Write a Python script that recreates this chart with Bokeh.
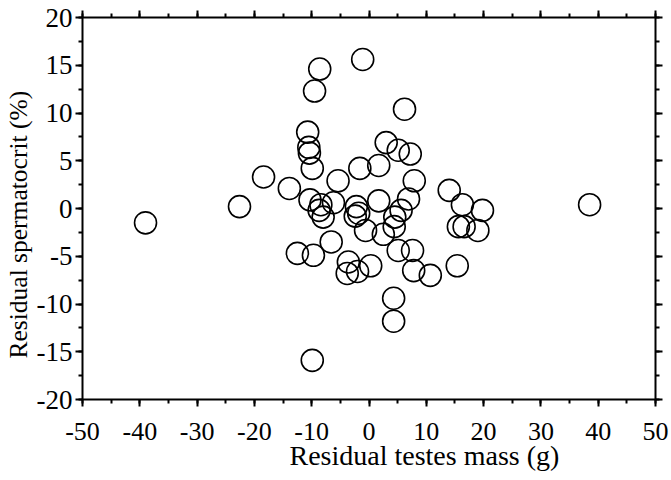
from bokeh.plotting import figure
from bokeh.models import (Range1d, LinearAxis, SingleIntervalTicker,
                          PrintfTickFormatter, CustomLabelingPolicy, Title,
                          CustomJSTickFormatter)
from bokeh.embed import file_html
from bokeh.resources import INLINE

# Residual testes mass (g)
x_vals = [-39.0, -22.6, -18.4, -13.9, -8.6, -9.5, -10.7, -10.5, -10.4, -9.9,
          -5.4, -10.3, -8.4, -6.2, -8.7, -8.0, -2.2, -1.8, -2.4, -1.6,
          -1.1, 1.7, 3.0, 5.1, 7.2, 6.2, 7.9, 1.7, 6.9, 5.6,
          4.5, 4.4, -0.6, 2.5, 14.0, 16.3, 19.8, 15.6, 16.6, 19.0,
          38.5, -6.6, -12.5, -9.7, -3.6, -3.8, -2.0, 0.3, 5.1, 7.6,
          7.8, 10.7, 15.4, 4.3, 4.3, -9.9]
# Residual spermatocrit (%)
y_vals = [-1.5, 0.2, 3.3, 2.1, 14.6, 12.3, 8.0, 6.4, 5.8, 4.2,
          2.9, 0.9, 0.4, 0.6, -0.2, -0.9, 0.2, -0.5, -0.8, 4.2,
          15.6, 4.5, 6.9, 6.1, 5.7, 10.4, 2.9, 0.8, 1.0, -0.2,
          -0.9, -1.9, -2.3, -2.7, 1.9, 0.4, -0.2, -1.9, -1.9, -2.3,
          0.4, -3.5, -4.7, -4.9, -5.6, -6.8, -6.6, -6.0, -4.4, -4.4,
          -6.5, -7.0, -6.0, -9.4, -11.8, -15.9]

x_label = "Residual testes mass (g)"
y_label = "Residual spermatocrit (%)"

FONT = "Liberation Serif"

p = figure(width=671, height=480, output_backend="svg", toolbar_location=None,
           x_range=Range1d(-50, 50), y_range=Range1d(-20, 20),
           min_border_left=82, min_border_right=16, min_border_top=17,
           min_border_bottom=81)
p.outline_line_color = None
p.grid.visible = False
p.background_fill_color = "white"
p.border_fill_color = "white"

p.scatter(x_vals, y_vals, marker="circle", size=22, fill_color=None,
          line_color="black", line_width=1.6)

def style(ax, interval, size="26px", labels=True):
    ax.ticker = SingleIntervalTicker(interval=interval, num_minor_ticks=2)
    ax.formatter = PrintfTickFormatter(format="%d")
    ax.axis_line_width = 2
    ax.axis_line_color = "black"
    ax.major_tick_line_width = 2
    ax.minor_tick_line_width = 2
    ax.major_tick_line_color = "black"
    ax.minor_tick_line_color = "black"
    ax.major_tick_in = 0
    ax.major_tick_out = 7
    ax.minor_tick_in = 0
    ax.minor_tick_out = 4
    ax.major_label_text_font = FONT
    ax.major_label_text_font_size = size if labels else "2px"
    ax.major_label_text_color = "black"
    if not labels:
        ax.formatter = CustomJSTickFormatter(code="return ''")
        ax.major_label_standoff = 0
        ax.major_label_policy = CustomLabelingPolicy(code="""
            const all = [...indices]
            for (const i of all) { indices.unset(i) }
            return indices
        """)

style(p.xaxis[0], 10, "26px")
style(p.yaxis[0], 5, "27px")
p.xaxis[0].major_label_standoff = 16
p.yaxis[0].major_label_standoff = 3

top = LinearAxis()
style(top, 10, labels=False)
p.add_layout(top, "above")
right = LinearAxis()
style(right, 5, labels=False)
p.add_layout(right, "right")

# axis titles (offset from centre as in the original figure)
xt = Title(text=x_label, align="left", offset=207, standoff=-10,
           text_font=FONT, text_font_size="28px", text_font_style="normal",
           text_color="black")
p.add_layout(xt, "below")
yt = Title(text=y_label, align="left", offset=41, standoff=2,
           text_font=FONT, text_font_size="25.5px", text_font_style="normal",
           text_color="black")
p.add_layout(yt, "left")

open("out.html", "w").write(file_html(p, INLINE))
